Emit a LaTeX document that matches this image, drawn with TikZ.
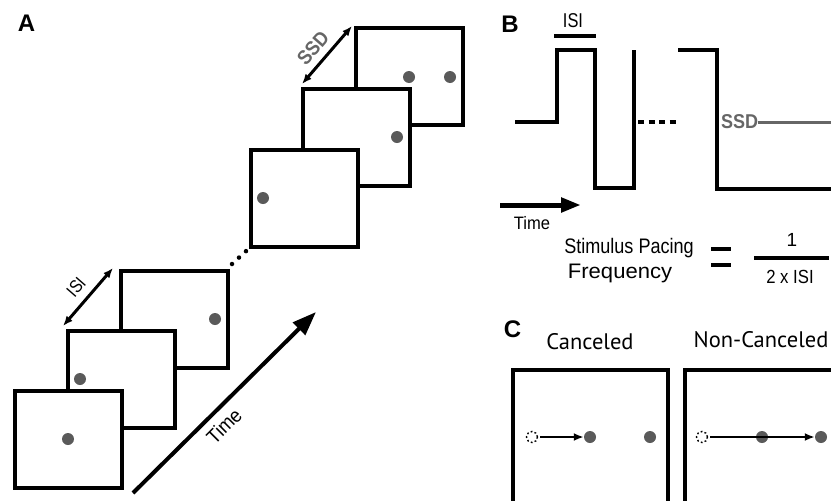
\documentclass[tikz,border=0pt]{standalone}
\usepackage{fontspec}
\setmainfont{Liberation Sans}
\newfontfamily\labelfont{PT Sans}
\usetikzlibrary{arrows.meta}
\definecolor{dotgray}{HTML}{5A5A5A}
\definecolor{txtgray}{HTML}{666666}
% horizontally squeezed text
\newcommand\hsq[2]{\scalebox{#1}[1]{#2}}
\tikzset{
  screen/.style={draw=black, fill=white, line width=4pt, minimum width=107pt,
    minimum height=97pt, inner sep=0pt, outer sep=0pt},
  target/.style={circle, fill=dotgray, minimum size=12pt, inner sep=0pt},
  ghost/.style={circle, draw=black, dash pattern=on 1.8pt off 2.2pt, line width=1.4pt,
    minimum size=11pt, inner sep=0pt},
  wave/.style={line width=4pt, line join=miter},
  panel/.style={font=\fontsize{24}{26}\selectfont\bfseries, inner sep=0pt},
  dbl/.style={line width=3pt, {Latex[length=10pt,width=8pt]}-{Latex[length=10pt,width=8pt]}},
  caption/.style={inner sep=0pt},
  grayssd/.style={font=\fontsize{20}{22}\selectfont\bfseries, text=txtgray, inner sep=0pt}
}
\begin{document}
\begin{tikzpicture}[x=1pt, y=-1pt]
\useasboundingbox (0,0) rectangle (831,501);
\clip (0,0) rectangle (831,501);

% ---------- Panel A: sequence of screens ----------
\node[panel] (lblA) at (26.5,23) {A};

\node[screen] (s6) at (409.5,76.5) {};
\node[screen] (s5) at (356,137.5) {};
\node[screen] (s4) at (304,198.5) {};
\node[screen] (s3) at (174.5,319.5) {};
\node[screen] (s2) at (121.5,379.5) {};
\node[screen] (s1) at (68.5,439.5) {};

\node[target] (d6a) at (409,77) {};
\node[target] (d6b) at (450,77) {};
\node[target] (d5) at (397,137) {};
\node[target] (d4) at (263,198) {};
\node[target] (d3) at (215,319) {};
\node[target] (d2) at (80,379) {};
\node[target] (d1) at (68,439) {};

% skipped screens
\draw[line width=4.5pt, line cap=round, dash pattern=on 0pt off 9.5pt] (s3.north east) ++(4,-7) -- (s4.south west);

% ISI marker
\coordinate (isiA) at (63,326);
\coordinate (isiB) at (113,268);
\draw[dbl] (isiA) -- (isiB);
\node[caption, font=\fontsize{18}{20}\selectfont, rotate=49] (isiT) at (76,287) {\hsq{0.85}{ISI}};

% SSD marker
\coordinate (ssdA) at (302,84);
\coordinate (ssdB) at (352,26);
\draw[dbl] (ssdA) -- (ssdB);
\node[grayssd, rotate=49] (ssdT) at (313,48) {\hsq{0.9}{SSD}};

% time axis
\coordinate (tA) at (133,493);
\coordinate (tB) at (316,312);
\draw[line width=4pt, -{Triangle[length=24pt,width=17pt]}] (tA) -- (tB);
\node[caption, font=\fontsize{20}{22}\selectfont, rotate=45] (timeA) at (224,426) {\hsq{0.92}{Time}};

% ---------- Panel B: stimulus timing ----------
\node[panel] (lblB) at (510,24.5) {B};
\node[caption, font=\fontsize{20}{22}\selectfont] (isiB2) at (573,21) {\hsq{0.82}{ISI}};
\coordinate (barL) at (554,36);
\coordinate (barR) at (596,36);
\draw[line width=4pt] (barL) -- (barR);

\coordinate (w0) at (515,122);
\draw[wave] (w0) -- (557,122) -- (557,50) -- (595,50) -- (595,188) -- (634,188) -- (634,50);
\draw[line width=4pt, dash pattern=on 6pt off 4.5pt] (638,122) -- (677,122);
\draw[wave] (678,50) -- (717,50) -- (717,189) -- (840,189);

\node[grayssd, anchor=west] (ssdB2) at (721,122) {\hsq{0.9}{SSD}};
\coordinate (ssdEnd) at (840,122);
\draw[txtgray, line width=3pt] (ssdB2.east) -- (ssdEnd);

\coordinate (tbA) at (500,205);
\coordinate (tbB) at (581,205);
\draw[line width=5pt, -{Triangle[length=20pt,width=14pt]}] (tbA) -- (tbB);
\node[caption, font=\fontsize{18}{20}\selectfont] (timeB) at (532,223) {\hsq{0.92}{Time}};

\node[caption, font=\fontsize{21}{23}\selectfont] (freq1) at (629,248) {\hsq{0.86}{Stimulus Pacing}};
\node[caption, font=\fontsize{21}{23}\selectfont] (freq2) at (620,273) {\hsq{1.05}{Frequency}};
\coordinate (eqL) at (711,249);
\coordinate (eqR) at (731,249);
\draw[line width=3.5pt] (eqL) -- (eqR);
\draw[line width=3.5pt] (711,265) -- (731,265);
\node[caption, font=\fontsize{19}{21}\selectfont] (num) at (792,240) {1};
\coordinate (fracL) at (754,258);
\coordinate (fracR) at (829,258);
\draw[line width=4pt] (fracL) -- (fracR);
\node[caption, font=\fontsize{19}{21}\selectfont] (den) at (790,277) {\hsq{0.88}{2 x ISI}};

% ---------- Panel C: saccade outcomes ----------
\node[panel] (lblC) at (512.5,329) {C};
\node[font=\labelfont\fontsize{22.5}{24}\selectfont, inner sep=0pt] (canc) at (590,342) {Canceled};
\node[font=\labelfont\fontsize{22.5}{24}\selectfont, inner sep=0pt] (ncanc) at (761,340) {Non-Canceled};

\draw[line width=4pt] (513,510) -- (513,370) -- (668,370) -- (668,510);
\draw[line width=4pt] (685,510) -- (685,370) -- (840,370);

\node[ghost] (g1) at (532,437) {};
\node[target] (c1a) at (590,437) {};
\node[target] (c1b) at (650,437) {};
\draw[line width=2.5pt, -{Latex[length=10pt,width=8pt]}] (g1.east) ++(2,0) -- (c1a.west);

\node[ghost] (g2) at (702,437) {};
\node[target] (c2a) at (762,437) {};
\node[target] (c2b) at (821,437) {};
\draw[line width=2.5pt, -{Latex[length=10pt,width=8pt]}] (g2.east) ++(2,0) -- (c2b.west);
\end{tikzpicture}
\end{document}
